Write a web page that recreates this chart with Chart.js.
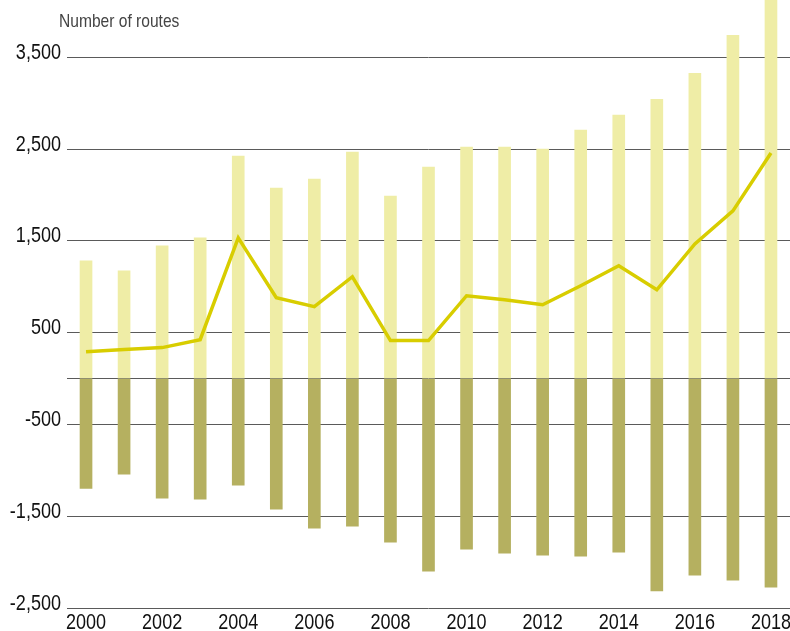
<!DOCTYPE html>
<html>
<head>
<meta charset="utf-8">
<script src="https://cdn.jsdelivr.net/npm/chart.js@4/dist/chart.umd.min.js"></script>
<style>
  html, body { margin: 0; padding: 0; background: #fff; }
  #wrap { position: relative; width: 790px; height: 631px; }
  #ytitle { position: absolute; left: 59px; top: 11px; line-height: 1; white-space: nowrap;
    font-family: "Liberation Sans", Arial, sans-serif; font-size: 19px; color: #444;
    transform: scaleX(0.82); transform-origin: left top; }
</style>
</head>
<body>
<div id="wrap">
  <canvas id="c" width="790" height="631"></canvas>
  <div id="ytitle">Number of routes</div>
</div>
<script>
const years = ["2000","2001","2002","2003","2004","2005","2006","2007","2008","2009","2010","2011","2012","2013","2014","2015","2016","2017","2018"];
const positive = [1283,1174,1446,1533,2424,2076,2174,2467,1989,2304,2522,2522,2500,2707,2870,3043,3326,3739,4200];
const negative = [-1196,-1043,-1304,-1315,-1163,-1424,-1630,-1609,-1783,-2098,-1859,-1902,-1924,-1935,-1891,-2315,-2141,-2196,-2272];
const net = [293,315,337,424,1533,880,783,1109,413,413,902,859,804,1011,1228,967,1467,1826,2457];
const yTicks = [-2500,-1500,-500,0,500,1500,2500,3500];

const FONT = '22px "Liberation Sans", Arial, sans-serif';
const SQUEEZE = 0.82;

function drawNarrow(ctx, text, x, y, align) {
  ctx.save();
  ctx.translate(x, y);
  ctx.scale(SQUEEZE, 1);
  ctx.textAlign = align;
  ctx.textBaseline = 'alphabetic';
  ctx.fillText(text, 0, 0);
  ctx.restore();
}

const narrowLabels = {
  id: 'narrowLabels',
  afterDraw(chart) {
    const ctx = chart.ctx;
    const xs = chart.scales.x, ys = chart.scales.y;
    ctx.save();
    ctx.font = FONT;
    ctx.fillStyle = '#111';
    ys.ticks.forEach(t => {
      if (t.value === 0) return;
      drawNarrow(ctx, t.value.toLocaleString('en-US'), chart.chartArea.left - 6, ys.getPixelForValue(t.value) + 1.5, 'right');
    });
    years.forEach((y, i) => {
      if (i % 2 !== 0) return;
      drawNarrow(ctx, y, xs.getPixelForValue(i), 629, 'center');
    });
    ctx.restore();
  }
};

new Chart(document.getElementById('c'), {
  data: {
    labels: years,
    datasets: [
      { type: 'line', data: net, borderColor: '#d8cd00', borderWidth: 3.5, pointRadius: 0, tension: 0, order: 0 },
      { type: 'bar', data: positive, backgroundColor: '#efeda6', barThickness: 12, grouped: false, order: 1 },
      { type: 'bar', data: negative, backgroundColor: '#b5b060', barThickness: 12, grouped: false, order: 1 }
    ]
  },
  plugins: [narrowLabels],
  options: {
    responsive: false,
    animation: false,
    layout: { padding: 0 },
    plugins: { legend: { display: false }, tooltip: { enabled: false }, title: { display: false } },
    scales: {
      x: {
        offset: true,
        grid: { display: false, drawTicks: false },
        border: { display: false },
        ticks: { display: false, autoSkip: false },
        afterFit: function(s) { s.height = 23; }
      },
      y: {
        min: -2500,
        max: 4124,
        afterBuildTicks: function(s) { s.ticks = yTicks.map(v => ({ value: v })); },
        grid: { color: '#5a5a5a', lineWidth: 1, drawTicks: false },
        border: { display: false },
        ticks: { display: false },
        afterFit: function(s) { s.width = 67; }
      }
    }
  }
});
</script>
</body>
</html>
